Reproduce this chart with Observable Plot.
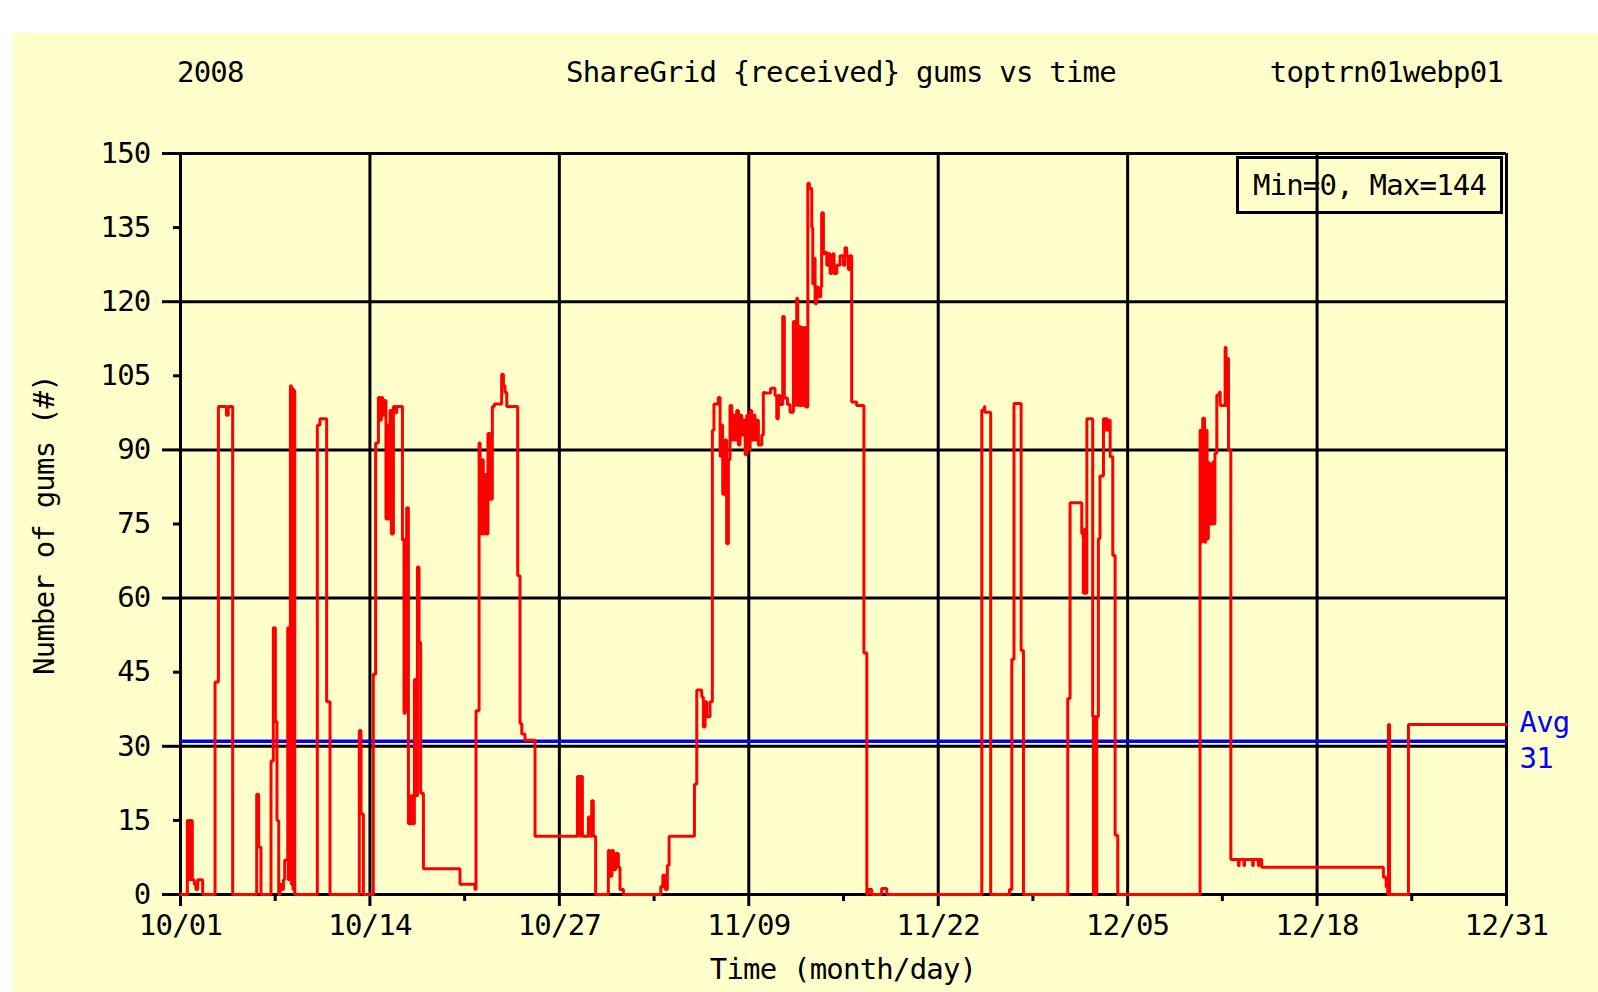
<!DOCTYPE html>
<html><head><meta charset="utf-8">
<script src="https://cdn.jsdelivr.net/npm/d3@7"></script>
<script src="https://cdn.jsdelivr.net/npm/@observablehq/plot@0.6"></script>
<style>
html,body{margin:0;padding:0;background:#fff;overflow:hidden;}
#page{position:relative;width:1598px;height:992px;}
#bg{position:absolute;left:12px;top:33px;right:0;bottom:0;background:#FFFFCC;}
.t{position:absolute;font-family:"DejaVu Sans Mono",monospace;font-size:29px;letter-spacing:-0.8px;line-height:29px;color:#000;white-space:pre;}
#chart{position:absolute;left:0;top:0;}
#minmax{position:absolute;left:1236px;top:156px;width:261px;height:52px;border:3px solid #000;display:flex;align-items:center;justify-content:center;}
</style></head><body>
<div id="page">
<div id="bg"></div>
<div id="chart"></div>
<div class="t" id="year" style="left:177px;top:58px"></div>
<div class="t" id="title" style="left:841px;top:58px;transform:translateX(-50%)"></div>
<div class="t" id="host" style="right:95px;top:58px"></div>
<div class="t" id="ylab" style="left:44px;top:525px;transform:translate(-50%,-50%) rotate(-90deg)"></div>
<div class="t" id="xlab" style="left:843px;top:955px;transform:translateX(-50%)"></div>
<div class="t" id="minmax"></div>
</div>
<script>
// ---- texts ----
const yearText = "2008";
const titleText = "ShareGrid {received} gums vs time";
const hostText = "toptrn01webp01";
const yLabel = "Number of gums (#)";
const xLabel = "Time (month/day)";

// ---- axis ticks ----
const xTickLabels = ["10/01","10/14","10/27","11/09","11/22","12/05","12/18","12/31"];
const yMajor = [0, 30, 60, 90, 120, 150];
const yMinor = [15, 45, 75, 105, 135];
const yLabels = [0, 15, 30, 45, 60, 75, 90, 105, 120, 135, 150];
const avgValue = 31;

// ---- series: [days since 10/01 00:00, gums] (step after) ----
const samples = [
[0,0],
[0.47,15],[0.56,3],[0.61,15],[0.67,3],[0.72,15],[0.81,3],[0.95,2],[1.06,1],[1.18,3],[1.52,0],
[2.37,43],[2.6,98.8],[3.15,97],[3.28,98.8],[3.58,0],
[5.23,20.3],[5.36,9.6],[5.52,0],
[6.21,27],[6.37,54],[6.51,35],[6.62,15],[6.74,0],[6.83,2],[6.96,1],[7.06,3],[7.15,7],[7.36,54],[7.4,3],[7.47,54],[7.54,103],[7.61,2],[7.66,102.5],[7.72,1],[7.77,102],[7.84,0],
[9.39,95],[9.57,96.3],[10.03,39],[10.26,0],
[12.27,33.2],[12.39,16.3],[12.55,0],
[13.23,44.6],[13.39,91.4],[13.58,100.6],[13.69,96],[13.78,100.6],[13.88,97],[13.97,100],[14.1,76],[14.2,95],[14.29,76],[14.38,98],[14.47,73],[14.61,98.8],[14.75,97.5],[14.84,98.8],[15.23,71.7],[15.34,36.7],[15.43,72],[15.52,78.3],[15.64,14.3],[15.73,20],[15.8,14.3],[15.86,20],[15.98,14.3],[16.05,43.5],[16.14,20],[16.26,66.3],[16.37,51],[16.48,20.5],[16.67,5.2],[19.18,2.1],[20.21,1],[20.28,37.2],[20.49,91.4],[20.56,73],[20.67,88],[20.78,73],[20.9,85],[21.01,73],[21.1,93.3],[21.24,80],[21.4,98.8],[21.54,99.3],[22.04,105.3],[22.16,103],[22.27,101.6],[22.39,98.8],[23.14,64.5],[23.3,34.6],[23.42,32.5],[23.64,31.2],[24.33,11.8],
[27.24,23.9],[27.42,11.8],[27.46,23.9],[27.58,11.8],[27.99,15.7],[28.1,11.8],[28.22,19],[28.33,11.8],[28.49,0],
[29.36,8.9],[29.48,3.7],[29.6,8.9],[29.71,5],[29.87,8.3],[30.05,5.5],[30.16,1],[30.4,0],
[32.96,1.6],[33.1,3.9],[33.26,1],[33.41,5.9],[33.53,11.8],[35.27,22.3],[35.43,41.4],[35.77,40],[35.88,33.9],[36.0,39],[36.11,36],[36.34,39],[36.5,94],[36.61,99.3],[36.91,100.6],[37.03,88.7],[37.14,95],[37.21,81],[37.37,92],[37.48,71],[37.6,88],[37.71,99],[37.83,92],[37.94,97],[38.06,92],[38.17,98],[38.29,91],[38.4,97],[38.52,93],[38.63,96],[38.75,89],[38.86,97],[38.98,90],[39.09,98],[39.2,92],[39.32,97],[39.43,92],[39.54,96],[39.66,91],[39.89,93],[40.0,101.6],[40.12,101.5],[40.5,102.5],[40.8,101],[40.92,96.3],[41.03,101],[41.14,99.2],[41.33,117],[41.44,100.5],[41.65,99.2],[41.83,97.6],[42.06,116],[42.15,99],[42.22,115],[42.29,120.7],[42.36,99],[42.45,115],[42.54,99],[42.63,114.8],[42.72,99],[42.82,114.8],[42.91,98.7],[43.05,144],[43.16,142.9],[43.32,135],[43.39,123.6],[43.46,128.8],[43.55,119.6],[43.66,123],[43.78,121],[43.94,123],[44.0,138],[44.12,129.7],[44.24,130],[44.35,127.4],[44.47,129.7],[44.58,125.7],[44.7,127.4],[44.76,129.7],[44.85,125.7],[45.04,127.4],[45.26,129.3],[45.49,127.4],[45.6,130.9],[45.72,129.3],[45.83,126.5],[45.94,129.3],[46.06,99.7],[46.4,99],[46.9,48.9],[47.1,0],[47.21,1],[47.44,0],[48.12,1.2],[48.47,0],
[54.99,98.1],[55.17,98.8],[55.2,97.6],[55.6,0],
[56.89,1],[57.05,47.6],[57.2,99.4],[57.69,49.4],[57.85,0],
[60.89,39.7],[61.05,79.3],[61.85,73.1],[61.96,61],[62.05,74],[62.1,61],[62.2,96.3],[62.6,36],[62.65,0],[62.7,36],[62.75,0],[62.8,36],[62.83,0],[62.88,36],[62.99,72],[63.1,84.7],[63.34,96.3],[63.45,94],[63.5,96.3],[63.6,94],[63.7,96],[63.8,88.6],[63.98,68.6],[64.14,12],[64.32,0],
[69.97,94],[70.05,71.3],[70.1,94],[70.15,96.4],[70.28,71.3],[70.36,94],[70.45,72],[70.54,87.4],[70.62,75],[70.7,87],[70.78,75],[70.86,87.6],[70.95,75],[70.99,89.3],[71.12,101.1],[71.3,101.7],[71.35,99],[71.69,110.8],[71.75,99],[71.8,108.5],[71.92,90],[72.08,7.1],
[72.6,5.8],[72.65,7.1],[72.98,5.8],[73.02,7.1],[73.58,5.8],[73.62,7.1],[73.97,5.8],[74.0,7.1],[74.2,5.5],
[82.55,3.5],[82.74,1.5],[82.85,0],[82.9,34.4],[82.97,0],[84.27,34.4],[91,34.4]
];

// ---- build ----
const t0 = Date.UTC(2008, 9, 1);
const data = samples.map(([d, g]) => ({date: new Date(t0 + d * 864e5), gums: g}));
const xTickDates = xTickLabels.map(s => { const [m, d] = s.split("/").map(Number); return new Date(Date.UTC(2008, m - 1, d)); });
const xMinor = d3.pairs(xTickDates).map(([a, b]) => new Date((+a + +b) / 2));
const gums = samples.map(s => s[1]);

const GW = 3;
const chart = Plot.plot({
  width: 1598, height: 992,
  marginTop: 153, marginLeft: 180, marginRight: 92, marginBottom: 98,
  style: {background: "transparent", fontFamily: "DejaVu Sans Mono, monospace", fontSize: "29px", letterSpacing: "-0.8px", color: "black", overflow: "visible"},
  x: {type: "utc", domain: [xTickDates[0], xTickDates[xTickDates.length - 1]]},
  y: {domain: [0, 150]},
  marks: [
    Plot.gridY(yMajor, {stroke: "black", strokeOpacity: 1, strokeWidth: GW}),
    Plot.gridX(xTickDates, {stroke: "black", strokeOpacity: 1, strokeWidth: GW}),
    Plot.axisY({ticks: yMajor, tickSize: 18, fill: "none", strokeWidth: GW, label: null}),
    Plot.axisY({ticks: yMinor, tickSize: 7, fill: "none", strokeWidth: GW, label: null}),
    Plot.axisY({ticks: yLabels, tickSize: 0, tickPadding: 30, label: null, tickFormat: d => String(d)}),
    Plot.axisX({ticks: xTickDates, tickSize: 12, fill: "none", strokeWidth: GW, label: null}),
    Plot.axisX({ticks: xMinor, tickSize: 7, fill: "none", strokeWidth: GW, label: null}),
    Plot.axisX({ticks: xTickDates, tickSize: 0, tickPadding: 20, label: null, tickFormat: (d, i) => xTickLabels[i]}),
    Plot.ruleY([avgValue], {stroke: "#0000FF", strokeWidth: 3.5}),
    Plot.text([avgValue], {y: d => d, frameAnchor: "right", text: d => `Avg\n${d}`, textAnchor: "start", dx: 13, dy: -3, lineAnchor: "middle", lineHeight: 1.24, fill: "#0000FF"}),
    Plot.line(data, {x: "date", y: "gums", curve: "step-after", stroke: "#FF0000", strokeWidth: 3, strokeLinejoin: "miter"})
  ]
});
document.getElementById("chart").appendChild(chart);
document.getElementById("year").textContent = yearText;
document.getElementById("title").textContent = titleText;
document.getElementById("host").textContent = hostText;
document.getElementById("ylab").textContent = yLabel;
document.getElementById("xlab").textContent = xLabel;
document.getElementById("minmax").textContent = `Min=${d3.min(gums)}, Max=${d3.max(gums)}`;
</script>
</body></html>
